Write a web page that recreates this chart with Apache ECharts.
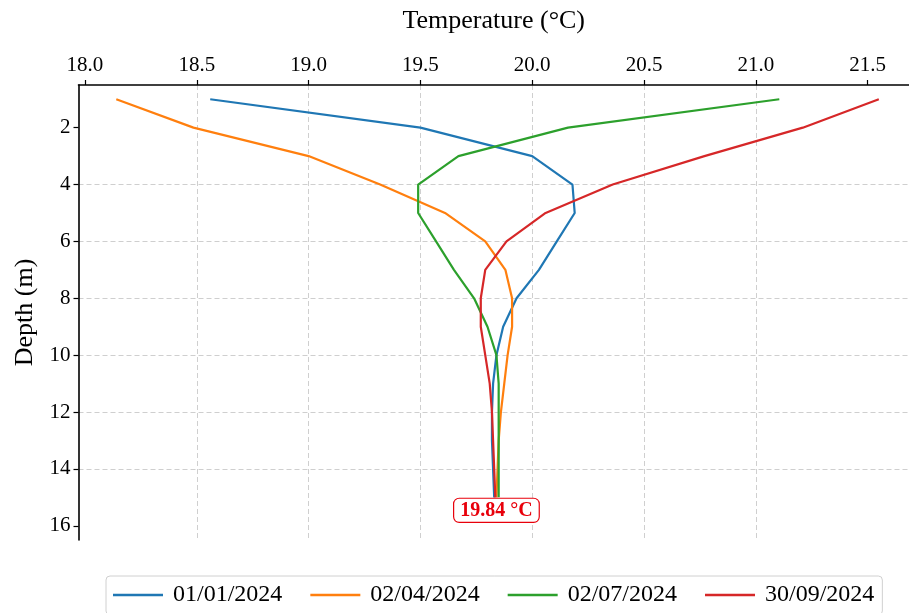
<!DOCTYPE html>
<html>
<head>
<meta charset="utf-8">
<script src="https://cdn.jsdelivr.net/npm/echarts@6/dist/echarts.min.js"></script>
<style>
html,body{margin:0;padding:0;background:#fff;}
#chart{width:909px;height:613px;}
</style>
</head>
<body>
<div id="chart"></div>
<script>
// Depth (m)
const depths = [1, 2, 3, 4, 5, 6, 7, 8, 9, 10, 11, 12, 13, 14, 15];
// Temperature (°C) per survey date
const t_2024_01_01 = [18.56, 19.50, 20.00, 20.18, 20.19, 20.11, 20.03, 19.93, 19.87, 19.84, 19.825, 19.82, 19.82, 19.825, 19.83];
const t_2024_04_02 = [18.14, 18.485, 19.00, 19.32, 19.61, 19.79, 19.88, 19.91, 19.91, 19.89, 19.875, 19.86, 19.85, 19.845, 19.84];
const t_2024_07_02 = [21.105, 20.16, 19.67, 19.49, 19.49, 19.57, 19.65, 19.74, 19.80, 19.84, 19.85, 19.85, 19.85, 19.85, 19.85];
const t_2024_09_30 = [21.55, 21.21, 20.77, 20.36, 20.06, 19.885, 19.79, 19.77, 19.77, 19.79, 19.81, 19.82, 19.825, 19.83, 19.835];
const seriesNames = ['01/01/2024', '02/04/2024', '02/07/2024', '30/09/2024'];
const xTicks = [18.0, 18.5, 19.0, 19.5, 20.0, 20.5, 21.0, 21.5];
const yTicks = [2, 4, 6, 8, 10, 12, 14, 16];
const annotationValue = 19.84;
const annotationDepth = 15;

const colors = ['#1f77b4', '#ff7f0e', '#2ca02c', '#d62728'];
const FONT = '"Liberation Serif", "Times New Roman", serif';
const allT = [t_2024_01_01, t_2024_04_02, t_2024_07_02, t_2024_09_30];

const chart = echarts.init(document.getElementById('chart'), null, {renderer: 'canvas'});

const series = allT.map((arr, i) => ({
  name: seriesNames[i],
  type: 'line',
  symbol: 'none',
  legendIcon: 'rect',
  data: arr.map((t, k) => [t, depths[k]]),
  lineStyle: {color: colors[i], width: 2.2},
  itemStyle: {color: colors[i]},
  z: 3 + i
}));

series[3].markPoint = {
  symbol: 'circle',
  symbolSize: 0,
  data: [{coord: [annotationValue, annotationDepth]}],
  label: {
    show: true,
    position: 'inside',
    offset: [0, 13],
    formatter: annotationValue.toFixed(2) + ' °C',
    color: '#e8000b',
    fontFamily: FONT,
    fontWeight: 'bold',
    fontSize: 20,
    backgroundColor: '#fff',
    borderColor: '#e8000b',
    borderWidth: 1.2,
    borderRadius: 5,
    padding: [2, 6, 1, 6]
  },
  z: 20
};

const option = {
  animation: false,
  backgroundColor: '#fff',
  grid: {left: 78.5, top: 85, right: 0, bottom: 73, containLabel: false},
  xAxis: {
    type: 'value',
    position: 'top',
    min: 17.971,
    max: 21.685,
    minInterval: 0.5,
    maxInterval: 0.5,
    name: 'Temperature (°C)',
    nameLocation: 'middle',
    nameGap: 51,
    nameTextStyle: {fontFamily: FONT, fontSize: 26, color: '#000'},
    axisLine: {show: true, lineStyle: {color: '#000', width: 1.6}},
    axisTick: {show: true, customValues: xTicks, inside: false, length: 5, lineStyle: {color: '#000', width: 1.2}},
    axisLabel: {
      customValues: xTicks,
      fontFamily: FONT, fontSize: 21, color: '#000', margin: 9,
      formatter: v => v.toFixed(1)
    },
    splitLine: {show: true, showMinLine: false, showMaxLine: false, lineStyle: {color: '#cfcfcf', type: [5, 3], width: 1}}
  },
  yAxis: {
    type: 'value',
    inverse: true,
    min: 0.5,
    max: 16.5,
    minInterval: 2,
    maxInterval: 2,
    name: 'Depth (m)',
    nameLocation: 'middle',
    nameGap: 40,
    nameRotate: 90,
    nameTextStyle: {fontFamily: FONT, fontSize: 26, color: '#000'},
    axisLine: {show: true, lineStyle: {color: '#000', width: 1.6}},
    axisTick: {show: true, customValues: yTicks, inside: false, length: 5, lineStyle: {color: '#000', width: 1.2}},
    axisLabel: {
      customValues: yTicks,
      fontFamily: FONT, fontSize: 21, color: '#000', margin: 8,
      formatter: v => String(v)
    },
    splitLine: {show: true, showMinLine: false, showMaxLine: false, lineStyle: {color: '#cfcfcf', type: [5, 3], width: 1}}
  },
  legend: {
    left: 106,
    top: 576,
    width: 800,
    orient: 'horizontal',
    icon: 'rect',
    itemWidth: 50,
    itemHeight: 2.5,
    itemGap: 28,
    padding: [7, 8, 8, 7],
    borderColor: '#d0d0d0',
    borderWidth: 1,
    borderRadius: 4,
    backgroundColor: '#fff',
    textStyle: {fontFamily: FONT, fontSize: 24, color: '#000', padding: [0, 0, 0, 5]},
    data: seriesNames
  },
  series: series
};

chart.setOption(option);
</script>
</body>
</html>
